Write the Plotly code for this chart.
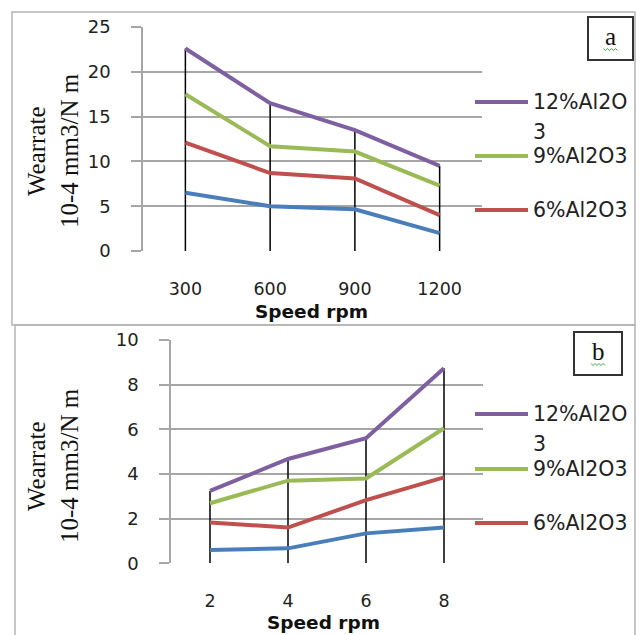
import plotly.graph_objects as go

W, H = 641, 635

# ---------------- data ----------------
speed_a = ["300", "600", "900", "1200"]
a_12 = [22.6, 16.5, 13.5, 9.5]
a_9 = [17.5, 11.7, 11.1, 7.3]
a_6 = [12.1, 8.7, 8.1, 4.0]
a_3 = [6.5, 5.0, 4.65, 2.0]

speed_b = ["2", "4", "6", "8"]
b_12 = [3.24, 4.67, 5.6, 8.73]
b_9 = [2.69, 3.7, 3.8, 6.05]
b_6 = [1.83, 1.6, 2.83, 3.85]
b_3 = [0.6, 0.67, 1.34, 1.6]

series_names = ["12%Al2O3", "9%Al2O3", "6%Al2O3", "3%Al2O3"]
# legend text as it wraps in the original (first entry broken over two lines)
legend_lines = [["12%Al2O", "3"], ["9%Al2O3"], ["6%Al2O3"]]
colors = ["#7E60A1", "#99BA55", "#C0504D", "#4A7EBB"]

y_title_l1 = "Wearrate"
y_title_l2 = "10-4 mm3/N m"
x_title = "Speed rpm"
panel_labels = ["a", "b"]


def px(x):
    return x / W


def py(y):
    return 1 - y / H


fig = go.Figure()


def add_panel(cats, series, xa, ya):
    top = series[0]
    dx, dy = [], []
    for c, v in zip(cats, top):
        dx += [c, c, None]
        dy += [0, v, None]
    fig.add_trace(go.Scatter(x=dx, y=dy, mode="lines", xaxis=xa, yaxis=ya,
                             line=dict(color="black", width=1.5),
                             showlegend=False, hoverinfo="skip"))
    for vals, name, col in reversed(list(zip(series, series_names, colors))):
        fig.add_trace(go.Scatter(x=cats, y=vals, mode="lines", name=name,
                                 xaxis=xa, yaxis=ya,
                                 line=dict(color=col, width=4),
                                 showlegend=False))


add_panel(speed_a, [a_12, a_9, a_6, a_3], "x", "y")
add_panel(speed_b, [b_12, b_9, b_6, b_3], "x2", "y2")

grid = "#a6a6a6"
ytickfont = dict(family="DejaVu Sans", size=18, color="#222222")
xtickfont = dict(family="DejaVu Sans", size=17.5, color="#222222")

common_x = dict(type="category", range=[-0.5, 3.5], showgrid=False,
                showline=False, ticks="", tickfont=xtickfont,
                ticklabelstandoff=25, zeroline=False, automargin=False)
common_y = dict(showgrid=True, gridcolor=grid, gridwidth=1.5, showline=True,
                linecolor=grid, linewidth=1.5, ticks="outside", ticklen=10,
                tickcolor=grid, tickwidth=1.5, tickfont=ytickfont,
                ticklabelstandoff=17, zeroline=False, automargin=False)

fig.update_layout(
    width=W, height=H,
    margin=dict(l=0, r=0, t=0, b=0, autoexpand=False),
    showlegend=False,
    paper_bgcolor="white", plot_bgcolor="white",
    xaxis=dict(domain=[px(143), px(482)], anchor="y", **common_x),
    yaxis=dict(domain=[py(251), py(27)], anchor="x", range=[0, 25], dtick=5, **common_y),
    xaxis2=dict(domain=[px(171), px(483)], anchor="y2", **common_x),
    yaxis2=dict(domain=[py(563.3), py(340)], anchor="x2", range=[0, 10], dtick=2, **common_y),
)

shapes = []
annotations = []

# panel frames
frame = dict(type="rect", xref="paper", yref="paper",
             line=dict(color="#b4b4b4", width=1.5), fillcolor="rgba(0,0,0,0)", layer="below")
shapes.append(dict(x0=px(12), x1=px(635), y0=py(325), y1=py(12), **frame))
shapes.append(dict(x0=px(15), x1=px(635), y0=py(645), y1=py(325), **frame))

# panel label boxes
for (x0, x1, y0, y1), lab in zip([(588, 633, 17, 60), (574, 622, 332, 375)], panel_labels):
    shapes.append(dict(type="rect", xref="paper", yref="paper",
                       x0=px(x0), x1=px(x1), y0=py(y1), y1=py(y0),
                       line=dict(color="#333333", width=2)))
    cx = (x0 + x1) / 2
    cy = (y0 + y1) / 2 - 2
    annotations.append(dict(text=lab, xref="paper", yref="paper", x=px(cx), y=py(cy),
                            showarrow=False, xanchor="center", yanchor="middle",
                            font=dict(family="Liberation Serif", size=25, color="#111111")))
    sx = cx - 7
    sy = cy + 12
    path = f"M{px(sx)},{py(sy)}"
    for k in range(1, 8):
        path += f" L{px(sx + 2 * k)},{py(sy + (2 if k % 2 else 0))}"
    shapes.append(dict(type="path", xref="paper", yref="paper", path=path,
                       line=dict(color="#3cb043", width=1)))

# legends (keys + labels); rows give y of first text line
legend_rows = {
    "a": [102, 156, 210],
    "b": [414, 469, 523],
}
for rows in legend_rows.values():
    for ry, lines, col in zip(rows, legend_lines, colors):
        shapes.append(dict(type="line", xref="paper", yref="paper",
                           x0=px(475), x1=px(528), y0=py(ry), y1=py(ry),
                           line=dict(color=col, width=4)))
        for k, t in enumerate(lines):
            annotations.append(dict(text=t, xref="paper", yref="paper", x=px(531),
                                    y=py(ry + 30 * k), showarrow=False,
                                    xanchor="left", yanchor="middle", align="left",
                                    font=dict(family="DejaVu Sans", size=20.5, color="#222222")))

# y axis titles (two lines, rotated)
for cy in [151, 466]:
    annotations.append(dict(text=y_title_l1, xref="paper", yref="paper", x=px(36), y=py(cy),
                            showarrow=False, textangle=-90, xanchor="center", yanchor="middle",
                            font=dict(family="Liberation Serif", size=25, color="#111111")))
    annotations.append(dict(text=y_title_l2, xref="paper", yref="paper", x=px(69), y=py(cy),
                            showarrow=False, textangle=-90, xanchor="center", yanchor="middle",
                            font=dict(family="Liberation Serif", size=25, color="#111111")))

# x axis titles
annotations.append(dict(text=f"<b>{x_title}</b>", xref="paper", yref="paper", x=px(311), y=py(311),
                        showarrow=False, xanchor="center", yanchor="middle",
                        font=dict(family="DejaVu Sans", size=18.5, color="#111111")))
annotations.append(dict(text=f"<b>{x_title}</b>", xref="paper", yref="paper", x=px(323), y=py(622),
                        showarrow=False, xanchor="center", yanchor="middle",
                        font=dict(family="DejaVu Sans", size=18.5, color="#111111")))

fig.update_layout(shapes=shapes, annotations=annotations)
fig.write_html("out.html")
